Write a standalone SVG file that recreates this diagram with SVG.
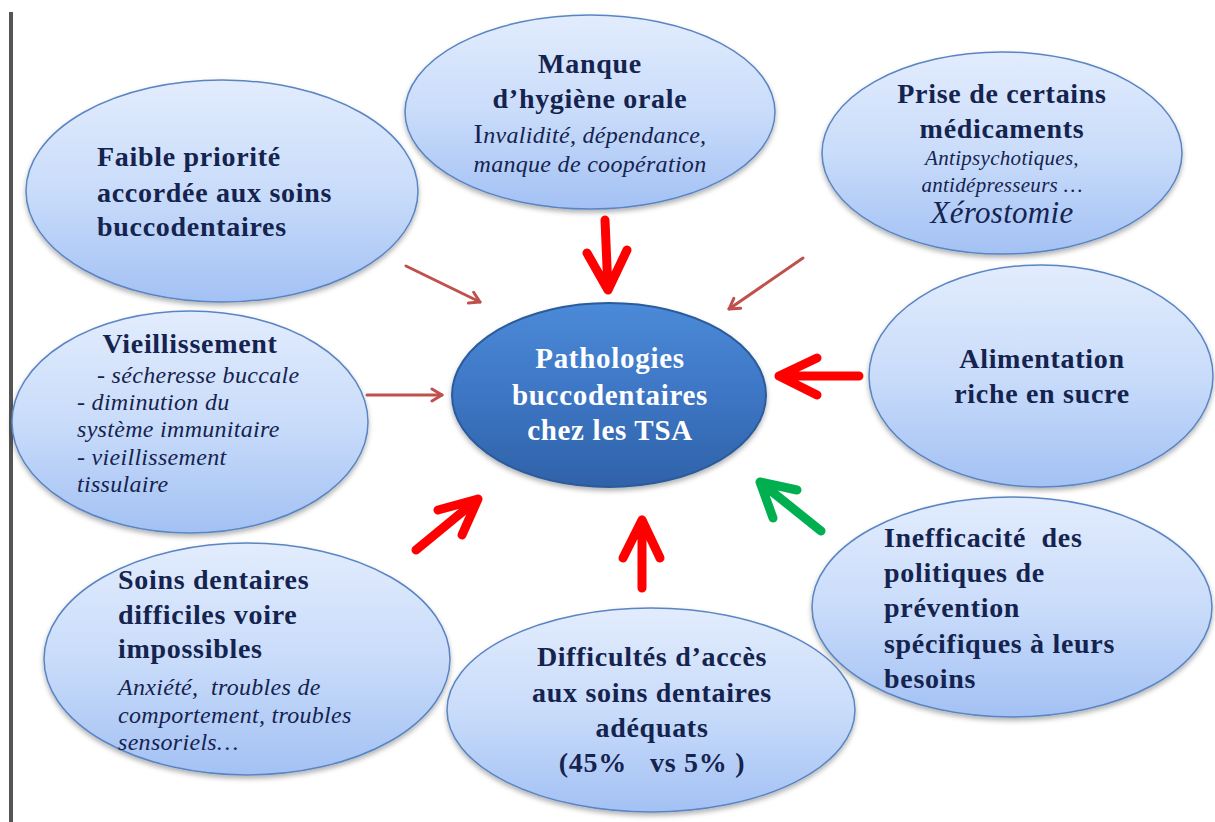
<svg xmlns="http://www.w3.org/2000/svg" width="1215" height="822" viewBox="0 0 1215 822">
<defs>
<linearGradient id="gOuter" x1="0" y1="0" x2="0" y2="1">
<stop offset="0" stop-color="#e2ecfd"/>
<stop offset="0.5" stop-color="#c9dcfa"/>
<stop offset="1" stop-color="#a3c1f4"/>
</linearGradient>
<linearGradient id="gCenter" x1="0" y1="0" x2="0" y2="1">
<stop offset="0" stop-color="#4b8ad8"/>
<stop offset="0.5" stop-color="#3d76c4"/>
<stop offset="1" stop-color="#2f62a8"/>
</linearGradient>
<filter id="sh" x="-10%" y="-10%" width="120%" height="125%">
<feDropShadow dx="0" dy="3" stdDeviation="2.5" flood-color="#000" flood-opacity="0.3"/>
</filter>
<marker id="thin" viewBox="0 0 16 16" refX="13" refY="8" markerWidth="16" markerHeight="16" markerUnits="userSpaceOnUse" orient="auto">
<path d="M3,2 L13,8 L3,14" fill="none" stroke="#c0504d" stroke-width="3" stroke-linecap="round" stroke-linejoin="round"/>
</marker>
</defs>
<style>
.outer{fill:url(#gOuter);stroke:#5a85c3;stroke-width:1.5;filter:url(#sh)}
.center{fill:url(#gCenter);stroke:#2c5b9c;stroke-width:2;filter:url(#sh)}
.t{font-family:"Liberation Serif","Times New Roman",serif;fill:#15234f}
.b{font-weight:bold;font-size:28px;letter-spacing:0.7px}
.i{font-style:italic;font-size:24px;letter-spacing:0.3px}
.m{text-anchor:middle}
.w{fill:#ffffff}
.thin{fill:none;stroke:#c0504d;stroke-width:3;stroke-linecap:round;marker-end:url(#thin)}
.thick{fill:none;stroke:#ff0000;stroke-width:9;stroke-linecap:round;stroke-linejoin:round}
.green{stroke:#00b050}
</style>
<rect x="9" y="12" width="4" height="810" fill="#555555"/>

<g id="n-faible">
<ellipse class="outer" cx="222" cy="191" rx="196" ry="111"/>
<text class="t b" x="97" y="166">Faible priorité</text>
<text class="t b" x="97" y="202">accordée aux soins</text>
<text class="t b" x="97" y="236">buccodentaires</text>
</g>

<g id="n-hygiene">
<ellipse class="outer" cx="590" cy="112" rx="185" ry="97"/>
<text class="t b m" x="590" y="73">Manque</text>
<text class="t b m" x="590" y="108">d’hygiène orale</text>
<text class="t i m" x="590" y="143"><tspan style="font-style:normal;font-size:28px">I</tspan>nvalidité, dépendance,</text>
<text class="t i m" x="590" y="172">manque de coopération</text>
</g>

<g id="n-medicaments">
<ellipse class="outer" cx="1002" cy="153" rx="180" ry="101"/>
<text class="t b m" x="1002" y="103">Prise de certains</text>
<text class="t b m" x="1002" y="138">médicaments</text>
<text class="t i m" x="1002" y="165" style="font-size:21px">Antipsychotiques,</text>
<text class="t i m" x="1002" y="192" style="font-size:21px">antidépresseurs …</text>
<text class="t i m" x="1002" y="223" style="font-size:31px">Xérostomie</text>
</g>

<g id="n-alimentation">
<ellipse class="outer" cx="1041" cy="376" rx="172" ry="111"/>
<text class="t b m" x="1042" y="368">Alimentation</text>
<text class="t b m" x="1042" y="403">riche en sucre</text>
</g>

<g id="n-inefficacite">
<ellipse class="outer" cx="1012" cy="607" rx="200" ry="110"/>
<text class="t b" x="884" y="547" style="white-space:pre">Inefficacité  des</text>
<text class="t b" x="884" y="582">politiques de</text>
<text class="t b" x="884" y="617">prévention</text>
<text class="t b" x="884" y="653">spécifiques à leurs</text>
<text class="t b" x="884" y="688">besoins</text>
</g>

<g id="n-acces">
<ellipse class="outer" cx="651" cy="710" rx="204" ry="102"/>
<text class="t b m" x="652" y="666">Difficultés d’accès</text>
<text class="t b m" x="652" y="702">aux soins dentaires</text>
<text class="t b m" x="652" y="737">adéquats</text>
<text class="t b m" x="652" y="772" style="white-space:pre">(45%   vs 5% )</text>
</g>

<g id="n-soins">
<ellipse class="outer" cx="247" cy="659" rx="203" ry="116"/>
<text class="t b" x="118" y="589">Soins dentaires</text>
<text class="t b" x="118" y="624">difficiles voire</text>
<text class="t b" x="118" y="658">impossibles</text>
<text class="t i" x="118" y="695" style="white-space:pre">Anxiété,  troubles de</text>
<text class="t i" x="118" y="723">comportement, troubles</text>
<text class="t i" x="118" y="750">sensoriels…</text>
</g>

<g id="n-vieillissement">
<ellipse class="outer" cx="190" cy="422" rx="178" ry="111"/>
<text class="t b m" x="190" y="353">Vieillissement</text>
<text class="t i" x="97" y="383">- sécheresse buccale</text>
<text class="t i" x="77" y="410">- diminution du</text>
<text class="t i" x="77" y="437">système immunitaire</text>
<text class="t i" x="77" y="465">- vieillissement</text>
<text class="t i" x="77" y="492">tissulaire</text>
</g>

<g id="n-center">
<ellipse class="center" cx="609" cy="395" rx="157" ry="92"/>
<text class="t b m w" x="610" y="368" style="font-size:29px">Pathologies</text>
<text class="t b m w" x="610" y="405" style="font-size:29px">buccodentaires</text>
<text class="t b m w" x="610" y="440" style="font-size:29px">chez les TSA</text>
</g>

<g id="connectors">
<line class="thin" x1="406" y1="266" x2="480" y2="302"/>
<line class="thin" x1="803" y1="258" x2="729" y2="309"/>
<line class="thin" x1="367" y1="395" x2="442" y2="395"/>
<path class="thick" d="M605,220 L608,290 M587,253 L608,290 L627,250"/>
<path class="thick" d="M859,376 L779,376 M817,358 L779,376 L817,395"/>
<path class="thick" d="M642,588 L642,520 M623,558 L642,520 L660,558"/>
<path class="thick" d="M416,550 L478,499 M438,510 L478,499 L462,535"/>
<path class="thick green" d="M821,531 L760,482 M797,490 L760,482 L773,518"/>
</g>
</svg>
